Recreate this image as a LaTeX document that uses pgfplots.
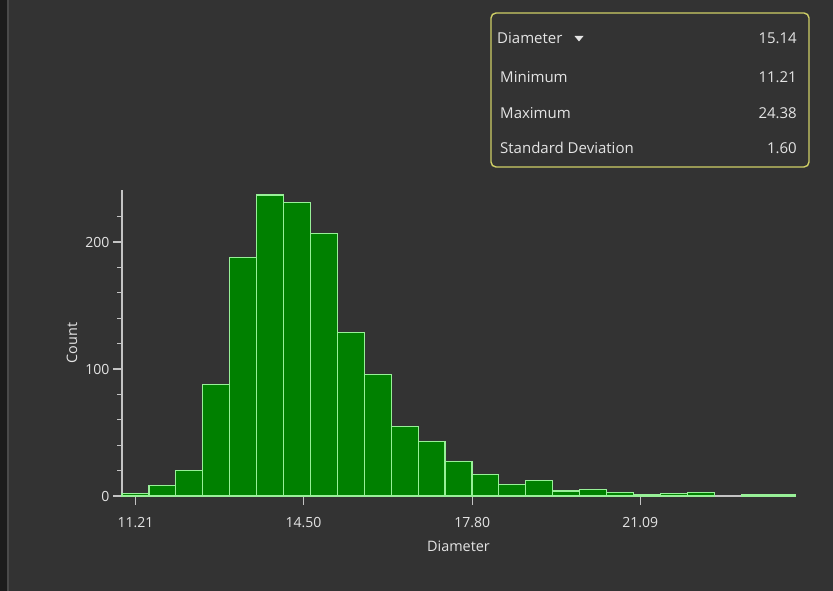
\documentclass[border=0pt]{standalone}
\usepackage{pgfplots}
\pgfplotsset{compat=1.18}
\usepackage{fontspec}
\setmainfont{Open Sans}
\definecolor{bg}{HTML}{333333}
\definecolor{strip}{HTML}{1C1C1C}
\definecolor{stripline}{HTML}{4A4A4A}
\definecolor{axisgray}{HTML}{C4C4C4}
\definecolor{txt}{HTML}{E4E4E4}
\definecolor{barfill}{HTML}{008000}
\definecolor{baredge}{HTML}{98F098}
\definecolor{boxedge}{HTML}{CFCF66}
\begin{document}
\begin{tikzpicture}[x=1pt,y=1pt]
\fill[bg] (0,0) rectangle (833,591);
\fill[strip] (0,0) rectangle (7,591);
\draw[stripline, line width=1.5pt] (8,0) -- (8,591);
\begin{axis}[
  at={(122pt,95pt)}, anchor=south west,
  scale only axis, width=673pt, height=306pt,
  xmin=10.9466, xmax=24.1166,
  ymin=0, ymax=241,
  axis x line*=bottom, axis y line*=left,
  axis line style={-, draw=axisgray, line width=1.2pt},
  every tick/.style={draw=axisgray, line width=1.2pt},
  tick align=outside,
  major tick length=9pt, minor tick length=5pt,
  xtick={11.21,14.50,17.80,21.09},
  xticklabels={11.21,14.50,17.80,21.09},
  ytick={0,100,200},
  minor ytick={20,40,60,80,120,140,160,180,220},
  ticklabel style={font=\fontsize{14}{16}\selectfont, text=txt},
  xticklabel style={yshift=-9pt},
  /pgf/number format/assume math mode=true,
  xlabel={Diameter}, ylabel={Count},
  label style={font=\fontsize{14.4}{16}\selectfont, text=txt},
  x label style={at={(axis description cs:0.5,-0.163)}, anchor=center},
  y label style={at={(axis description cs:-0.0743,0.5)}, anchor=center},
  clip=false,
]
\addplot[ybar, bar width=0.5268, bar shift=0pt, fill=barfill, draw=baredge, line width=1.2pt]
coordinates {
(11.2100,2) (11.7368,8) (12.2636,20) (12.7904,88) (13.3172,188)
(13.8440,237) (14.3708,231) (14.8976,207) (15.4244,129) (15.9512,96)
(16.4780,55) (17.0048,43) (17.5316,27) (18.0584,17) (18.5852,9)
(19.1120,12) (19.6388,4) (20.1656,5) (20.6924,3) (21.2192,1)
(21.7460,2) (22.2728,3) (23.3264,1) (23.8532,1)
};
\end{axis}
% statistics panel
\draw[boxedge, line width=1.4pt, rounded corners=5pt, fill=bg] (491,424) rectangle (809,578);
\begin{scope}[every node/.style={text=txt, font=\fontsize{15}{17}\selectfont, inner sep=0pt}]
\node[anchor=west] at (497,553) {Diameter};
\node[anchor=east] at (797,553) {15.14};
\node[anchor=west] at (500,514) {Minimum};
\node[anchor=east] at (797,514) {11.21};
\node[anchor=west] at (500,478) {Maximum};
\node[anchor=east] at (797,478) {24.38};
\node[anchor=west] at (500,443) {Standard Deviation};
\node[anchor=east] at (797,443) {1.60};
\end{scope}
\fill[txt] (574.5,555) -- (583.5,555) -- (579,549.5) -- cycle;
\pgfresetboundingbox
\path[use as bounding box] (0,0) rectangle (833,591);
\end{tikzpicture}
\end{document}
